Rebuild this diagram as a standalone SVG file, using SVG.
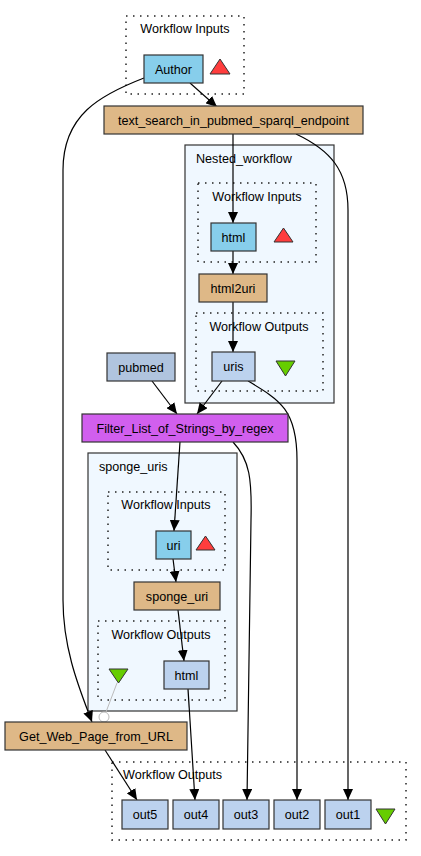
<svg xmlns="http://www.w3.org/2000/svg" width="421" height="856" viewBox="0 0 421 856">
<defs>
<marker id="ah" markerWidth="11" markerHeight="10" refX="11" refY="5" orient="auto" markerUnits="userSpaceOnUse">
<path d="M0,0 L11,5 L0,10 Z" fill="#000"/>
</marker>
<style>
text{font-family:"Liberation Sans",Arial,sans-serif;font-size:12.6px;fill:#000}
.c{text-anchor:middle}
.n{stroke:#333;stroke-width:1.2}
.in{fill:#87ceeb}
.pr{fill:#deb887}
.out{fill:#bcd2ee}
.const{fill:#b0c4de}
.filt{fill:#d15fee}
.cl{fill:#f0f8ff;stroke:#333;stroke-width:1.2}
.dot{fill:none;stroke:#222;stroke-width:1.5;stroke-dasharray:1.5,5.5}
.tri-r{fill:#ff3d3d;stroke:#333;stroke-width:1}
.tri-g{fill:#66cd00;stroke:#333;stroke-width:1}
.e{fill:none;stroke:#000;stroke-width:1.2;marker-end:url(#ah)}
</style>
</defs>
<rect width="421" height="856" fill="#fff"/>

<g id="clusters">
<rect id="top_inputs" class="dot" x="126" y="16" width="118" height="78"/>
<text x="185" y="33" class="c">Workflow Inputs</text>

<g id="Nested_workflow">
<rect class="cl" x="185" y="145" width="149" height="258"/>
<text x="196" y="163">Nested_workflow</text>
<rect class="dot" x="198" y="183" width="118" height="79"/>
<text x="257" y="201" class="c">Workflow Inputs</text>
<rect class="dot" x="196" y="313" width="127" height="78"/>
<text x="259" y="331" class="c">Workflow Outputs</text>
</g>

<g id="sponge_uris">
<rect class="cl" x="88" y="453" width="149" height="258"/>
<text x="99" y="471">sponge_uris</text>
<rect class="dot" x="108" y="492" width="117" height="78"/>
<text x="166" y="509" class="c">Workflow Inputs</text>
<rect class="dot" x="98" y="621" width="127" height="79"/>
<text x="161" y="639" class="c">Workflow Outputs</text>
</g>

<rect id="bottom_outputs" class="dot" x="112" y="762" width="294" height="78"/>
<text x="123" y="779">Workflow Outputs</text>
</g>

<g id="connectors">
<path class="e" d="M190,83 L217,107"/>
<path class="e" d="M144,78 C100,95 63,115 63,170 L63,600 C63,650 80,690 92,722"/>
<path class="e" d="M233,134 L233,223"/>
<path class="e" d="M296,134 C330,150 348,170 348,210 L348,800"/>
<path class="e" d="M233,251 L233,274"/>
<path class="e" d="M233,302 L233,352"/>
<path class="e" d="M222,381 L197,414"/>
<path class="e" d="M248,381 C280,400 297,410 297,460 L297,800"/>
<path class="e" d="M152,381 L177,414"/>
<path class="e" d="M180,442 L174,531"/>
<path class="e" d="M233,442 C250,460 252,480 251,520 L247,800"/>
<path class="e" d="M173,559 L176,582"/>
<path class="e" d="M178,610 L184,661"/>
<path class="e" d="M188,689 L195,800"/>
<path class="e" d="M105,750 L137,800"/>
<path d="M117,683 L106,712" fill="none" stroke="#bbb" stroke-width="1"/>
<circle cx="104" cy="717" r="5" fill="#fff" stroke="#bbb" stroke-width="1"/>
</g>

<g id="Author"><rect class="n in" x="144" y="55" width="59" height="28"/><text x="173.5" y="73.5" class="c">Author</text></g>
<g id="Author_tri"><polygon class="tri-r" points="220,59 230,74 210,74"/></g>
<g id="text_search_in_pubmed_sparql_endpoint"><rect class="n pr" x="104" y="106" width="259" height="28"/><text x="233.5" y="124.5" class="c">text_search_in_pubmed_sparql_endpoint</text></g>

<g id="nested_html"><rect class="n in" x="211" y="223" width="45" height="28"/><text x="233.5" y="241.5" class="c">html</text></g>
<g id="nested_in_tri"><polygon class="tri-r" points="283.5,228 293,242 274,242"/></g>
<g id="html2uri"><rect class="n pr" x="199" y="274" width="68" height="28"/><text x="233" y="292.5" class="c">html2uri</text></g>
<g id="uris"><rect class="n out" x="212" y="352" width="43" height="29"/><text x="233.5" y="370.5" class="c">uris</text></g>
<g id="nested_out_tri"><polygon class="tri-g" points="276,361 295,361 285.5,376"/></g>

<g id="pubmed"><rect class="n const" x="107" y="353" width="68" height="28"/><text x="141" y="371.5" class="c">pubmed</text></g>
<g id="Filter_List_of_Strings_by_regex"><rect class="n filt" x="82" y="414" width="206" height="28"/><text x="185" y="432.5" class="c">Filter_List_of_Strings_by_regex</text></g>

<g id="uri"><rect class="n in" x="156" y="531" width="35" height="28"/><text x="173.5" y="549.5" class="c">uri</text></g>
<g id="sponge_in_tri"><polygon class="tri-r" points="205.5,536 215,550 196,550"/></g>
<g id="sponge_uri"><rect class="n pr" x="134" y="582" width="86" height="28"/><text x="177" y="600.5" class="c">sponge_uri</text></g>
<g id="sponge_html"><rect class="n out" x="164" y="661" width="45" height="28"/><text x="186.5" y="679.5" class="c">html</text></g>
<g id="sponge_out_tri"><polygon class="tri-g" points="109,669 128,669 118.5,683"/></g>

<g id="Get_Web_Page_from_URL"><rect class="n pr" x="5" y="722" width="182" height="28"/><text x="96" y="740.5" class="c">Get_Web_Page_from_URL</text></g>

<g id="out5"><rect class="n out" x="122" y="800" width="46" height="29"/><text x="145" y="818.5" class="c">out5</text></g>
<g id="out4"><rect class="n out" x="173" y="800" width="46" height="29"/><text x="196" y="818.5" class="c">out4</text></g>
<g id="out3"><rect class="n out" x="223" y="800" width="46" height="29"/><text x="246" y="818.5" class="c">out3</text></g>
<g id="out2"><rect class="n out" x="274" y="800" width="46" height="29"/><text x="297" y="818.5" class="c">out2</text></g>
<g id="out1"><rect class="n out" x="325" y="800" width="46" height="29"/><text x="348" y="818.5" class="c">out1</text></g>
<g id="bottom_out_tri"><polygon class="tri-g" points="376,809 395,809 385.5,824"/></g>
</svg>
